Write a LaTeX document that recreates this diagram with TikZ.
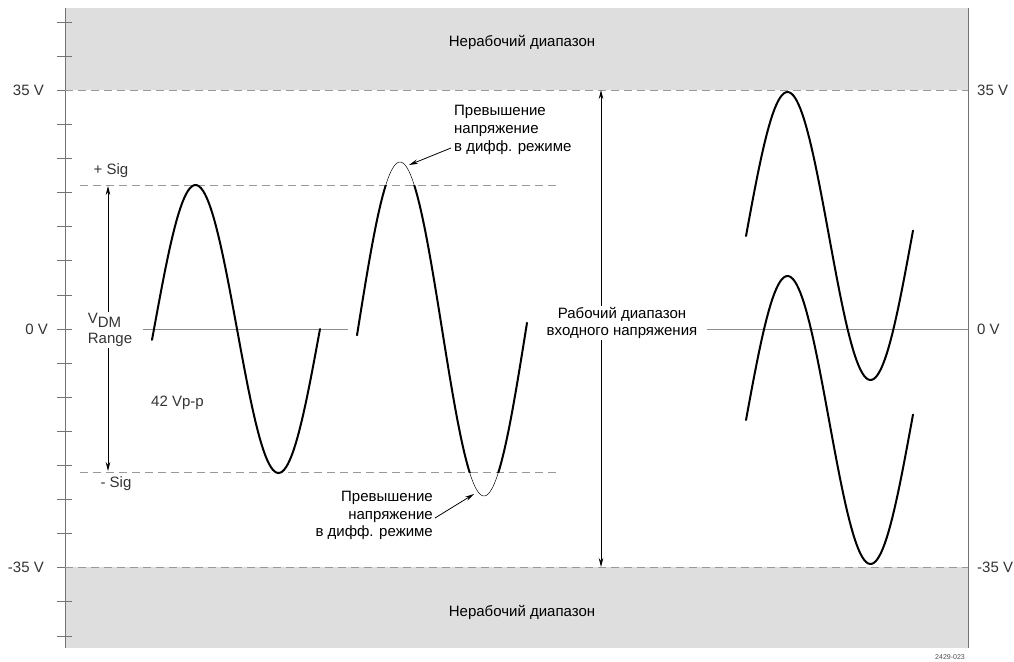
\documentclass[tikz,border=0pt]{standalone}
\usepackage{fontspec}
\setmainfont{Liberation Sans}
\usepackage{tikz}
\usetikzlibrary{arrows.meta, positioning}

\begin{document}
\begin{tikzpicture}[
    x=1pt, y=-1pt,
    every node/.style={font=\fontsize{15}{17.5}\selectfont, inner sep=1pt},
    axislabel/.style={text=black!80},
    note/.style={text=black},
    band/.style={fill=black!13, draw=none},
    axis/.style={draw=black!55, line width=0.8pt},
    limit/.style={draw=black!40, line width=0.8pt, dash pattern=on 8pt off 5pt},
    zeroline/.style={draw=black!45, line width=0.7pt},
    wave/.style={line width=2pt, line cap=round},
    thinwave/.style={line width=0.5pt},
    arrow/.style={-{Stealth[length=9pt, width=4.5pt]}, line width=0.8pt, draw=black}
]
\useasboundingbox (0,0) rectangle (1014,661);

% out of range bands
\fill[band] (65,8) rectangle (968,90);
\fill[band] (65,567) rectangle (968,648);
\node[note] (NonTop) at (522,42) {Нерабочий диапазон};
\node[note] (NonBot) at (522,612) {Нерабочий диапазон};

% axes and ticks
\draw[axis] (65,8) -- (65,648);
\draw[axis] (968,8) -- (968,648);
\foreach \v in {-45,-40,...,45}
    \draw[axis] (57,{329-6.82*\v}) -- (72,{329-6.82*\v});

% level lines
\draw[limit] (65,90) -- (968,90);
\draw[limit] (65,567) -- (968,567);
\draw[limit] (80,185) -- (557,185);
\draw[limit] (80,472) -- (557,472);
\draw[zeroline] (143,329) -- (348,329);
\draw[zeroline] (707,329) -- (968,329);

\node[axislabel, anchor=east] (L35) at (45,90) {35 V};
\node[axislabel, anchor=east] (L0) at (49,329) {0 V};
\node[axislabel, anchor=east] (Lm35) at (45,567) {-35 V};
\node[axislabel, anchor=west] (R35) at (976,90) {35 V};
\node[axislabel, anchor=west] (R0) at (976,329) {0 V};
\node[axislabel, anchor=west] (Rm35) at (976,567) {-35 V};

% signal limits
\node[axislabel] (PSig) at (111,171) {+ Sig};
\node[axislabel] (MSig) at (116,484) {- Sig};
\node[axislabel, align=left] (VDM) at (110,330) {V\raisebox{-4pt}{DM}\\[3pt]Range};
\node[axislabel, anchor=west] (Vpp) at (150,403) {42 Vp-p};
\coordinate (SigTop) at (108,186);
\coordinate (SigBot) at (108,471);
\draw[arrow] (VDM.north -| SigTop) -- (SigTop);
\draw[arrow] (VDM.south -| SigBot) -- (SigBot);

% waveforms
\draw[wave] plot[domain=152:320, samples=90] (\x, {329-144*sin((\x-154)/166*360)});
\draw[thinwave] plot[domain=357:527, samples=120] (\x, {329-167*sin((\x-358)/168*360)});
\begin{scope}
    \clip (340,185) rectangle (560,472);
    \draw[wave] plot[domain=357:527, samples=120] (\x, {329-167*sin((\x-358)/168*360)});
\end{scope}
\draw[wave] plot[domain=746:913, samples=90] (\x, {236-144*sin((\x-746)/166*360)});
\draw[wave] plot[domain=746:913, samples=90] (\x, {420-144*sin((\x-746)/166*360)});

% overvoltage notes
\node[note, anchor=south west, align=left, font=\fontsize{15}{18}\selectfont] (OvTop) at (453,156)
    {Превышение\\напряжение\\в дифф. режиме};
\node[note, anchor=south east, align=right] (OvBot) at (434,541)
    {Превышение\\напряжение\\в дифф. режиме};
\coordinate (PeakTop) at (409,165);
\coordinate (PeakBot) at (474,494);
\draw[arrow] ([xshift=-2pt, yshift=8pt]OvTop.south west) -- (PeakTop);
\draw[arrow] ([xshift=1pt, yshift=23pt]OvBot.south east) -- (PeakBot);

% operating range
\node[note, align=center] (Work) at (622,323) {Рабочий диапазон\\входного напряжения};
\coordinate (WorkTop) at (601,90);
\coordinate (WorkBot) at (601,567);
\draw[arrow] (Work.north -| WorkTop) -- (WorkTop);
\draw[arrow] (Work.south -| WorkBot) -- (WorkBot);

\node[text=black!70, font=\fontsize{7}{8}\selectfont] (Code) at (950,657) {2429-023};
\end{tikzpicture}
\end{document}
